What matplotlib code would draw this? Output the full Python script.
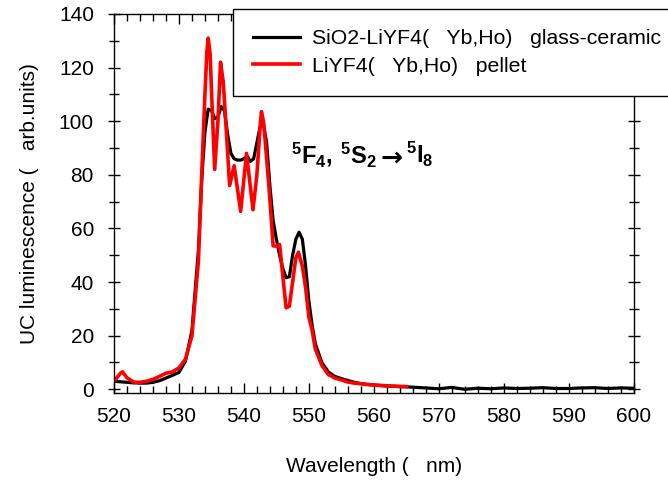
import matplotlib
matplotlib.use("Agg")
import matplotlib.pyplot as plt
from matplotlib.ticker import MultipleLocator

plt.rcParams['font.family'] = ['Liberation Sans', 'DejaVu Sans']
plt.rcParams['mathtext.fontset'] = 'custom'
plt.rcParams['mathtext.rm'] = 'Liberation Sans'
plt.rcParams['mathtext.bf'] = 'Liberation Sans:bold'

# glass-ceramic (black)
wl_gc = [520, 521, 522, 523, 524, 525, 526, 527, 528, 529, 530, 531, 532, 533,
         533.5, 534, 534.5, 535, 535.5, 536, 536.5, 537, 537.5, 538, 538.5, 539,
         539.5, 540, 540.5, 541, 541.5, 542, 542.5, 543, 543.5, 544, 544.5, 545,
         545.5, 546, 546.5, 547, 547.5, 548, 548.5, 549, 549.5, 550, 550.5, 551,
         552, 553, 554, 555, 556, 557, 558, 559, 560, 562, 564, 566, 568, 570,
         572, 574, 576, 578, 580, 582, 584, 586, 588, 590, 592, 594, 596, 598, 600]
uc_gc = [3.0, 2.8, 2.6, 2.4, 2.3, 2.3, 2.6, 3.2, 4.2, 5.2, 6.3, 10.5, 22, 52,
         78, 96, 104.5, 104, 101, 101.5, 105.5, 104, 95, 88, 86, 85.5,
         85.5, 86, 87, 85, 86, 92, 98, 99, 92, 76, 63, 56,
         50, 45, 41.6, 42, 50, 56, 58.6, 56, 46, 33, 24, 17,
         10, 6.5, 4.8, 4.0, 3.3, 2.6, 2.1, 1.8, 1.6, 1.2, 1.0, 0.8, 0.5, 0.2,
         0.7, 0.0, 0.4, 0.2, 0.5, 0.3, 0.4, 0.6, 0.3, 0.3, 0.5, 0.6, 0.3, 0.5, 0.4]

# pellet (red)
wl_p = [520, 520.5, 521, 521.3, 522, 523, 524, 525, 526, 527, 528, 529, 530, 531,
        532, 533, 533.5, 534, 534.3, 534.5, 534.8, 535, 535.5, 536, 536.4, 536.8,
        537, 537.8, 538.5, 539.5, 540.4, 541.4, 542, 542.5, 542.7, 543, 543.3,
        544, 544.5, 545, 545.5, 546, 546.5, 547, 547.5, 548, 548.4, 549, 549.5,
        550, 550.5, 551, 552, 553, 554, 555, 556, 557, 558, 559, 560, 562, 564, 565]
uc_p = [3.0, 4.5, 6.0, 6.5, 4.3, 2.7, 2.6, 3.0, 3.7, 4.8, 6.0, 6.5, 8.0, 11.2,
        20, 48, 80, 110, 126, 131, 125, 112, 82, 100, 122, 115,
        108, 76, 83.4, 66.4, 88, 67, 80, 98, 103.6, 100, 92,
        71, 53.5, 53.4, 54, 42, 30.4, 31, 40, 49, 51.1, 46, 38,
        27, 22, 15, 9, 5.5, 4.2, 3.5, 2.7, 2.3, 2.1, 1.8, 1.6, 1.3, 1.1, 1.0]

legend_labels = ['SiO2-LiYF4(   Yb,Ho)   glass-ceramic', 'LiYF4(   Yb,Ho)   pellet']

fig = plt.figure(figsize=(6.68, 4.82), dpi=100)
ax = fig.add_axes([0.1707, 0.184, 0.9484 - 0.1707, 0.971 - 0.184])

ax.plot(wl_gc, uc_gc, color='black', lw=2.3, label=legend_labels[0])
ax.plot(wl_p, uc_p, color='#ff0000', lw=2.6, label=legend_labels[1])

ax.set_xlim(520, 600)
ax.set_ylim(-1.5, 140)
ax.xaxis.set_major_locator(MultipleLocator(10))
ax.xaxis.set_minor_locator(MultipleLocator(2))
ax.yaxis.set_major_locator(MultipleLocator(20))
ax.yaxis.set_minor_locator(MultipleLocator(10))

ax.tick_params(axis='x', which='both', direction='in', top=True, bottom=True,
               labelsize=15, pad=10)
ax.tick_params(axis='x', which='major', length=7, width=1)
ax.tick_params(axis='x', which='minor', length=5, width=1)
ax.tick_params(axis='y', which='both', direction='inout', left=True, right=True,
               labelsize=15, pad=10)
ax.tick_params(axis='y', which='major', length=9, width=1)
ax.tick_params(axis='y', which='minor', length=7, width=1)
for s in ax.spines.values():
    s.set_linewidth(1.0)

ax.set_xlabel('Wavelength (   nm)', fontsize=15, labelpad=22)
ax.set_ylabel('UC luminescence (   arb.units)', fontsize=15, labelpad=14)

# transition label, in three pieces so the arrow can be drawn larger
ax.text(547.2, 84.3, r'$\mathbf{{}^5F_4,\,{}^5S_2}$', fontsize=17,
        ha='left', va='baseline')
ax.text(562.7, 83.4, '\u2192', fontsize=19, fontweight='bold',
        family='DejaVu Sans', ha='center', va='baseline')
ax.text(564.9, 84.3, r'$\mathbf{{}^5I_8}$', fontsize=17,
        ha='left', va='baseline')

leg = fig.legend(loc='upper left', bbox_to_anchor=(233 / 668, 1 - 9 / 482),
                 fontsize=15.3, frameon=True, fancybox=False, handlelength=2.2,
                 handletextpad=0.55, borderpad=0.95, labelspacing=0.4,
                 borderaxespad=0)
leg.get_frame().set_edgecolor('black')
leg.get_frame().set_linewidth(1.0)
leg.get_frame().set_alpha(1)

fig.savefig('out.png', dpi=100)
